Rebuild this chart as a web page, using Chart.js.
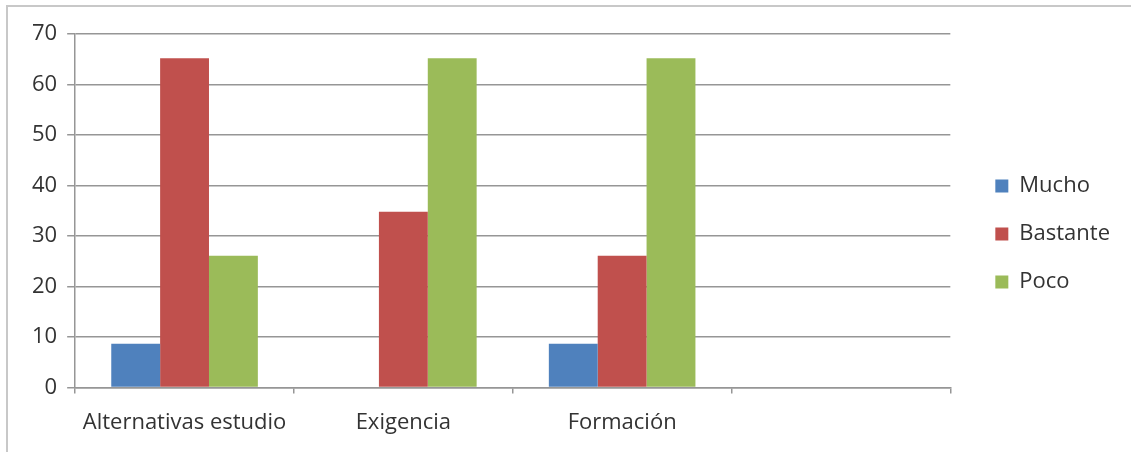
<!DOCTYPE html>
<html>
<head>
<meta charset="utf-8">
<script src="https://cdn.jsdelivr.net/npm/chart.js@4.4.0/dist/chart.umd.min.js"></script>
<style>
  body { margin: 0; background: #fff; }
  #wrap { position: relative; width: 1131px; height: 452px; }
  #frame { position: absolute; left: 6px; top: 5px; right: 0; bottom: 0; border-left: 2px solid #c8c8c8; border-top: 2px solid #c8c8c8; }
  canvas { position: absolute; left: 0; top: 0; }
</style>
</head>
<body>
<div id="wrap">
  <div id="frame"></div>
  <canvas id="chart" width="1131" height="452"></canvas>
</div>
<script>
const categories = ['Alternativas estudio', 'Exigencia', 'Formación', ''];
const mucho = [8.7, 0, 8.7, null];
const bastante = [65.2, 34.8, 26.1, null];
const poco = [26.1, 65.2, 65.2, null];
const yTicks = [0, 10, 20, 30, 40, 50, 60, 70];

const textColor = '#333333';
const gridColor = '#969696';
const font = { family: 'Open Sans', size: 22 };

// nudge legend to sit where the original one does
const legendShift = {
  id: 'legendShift',
  afterLayout(chart) {
    chart.legend.left += 19;
    chart.legend.right += 19;
    chart.legend.top -= 9;
    chart.legend.bottom -= 9;
  }
};

const ctx = document.getElementById('chart').getContext('2d');
new Chart(ctx, {
  type: 'bar',
  data: {
    labels: categories,
    datasets: [
      { label: 'Mucho', data: mucho, backgroundColor: '#4F81BD' },
      { label: 'Bastante', data: bastante, backgroundColor: '#C0504D' },
      { label: 'Poco', data: poco, backgroundColor: '#9BBB59' },
    ],
  },
  options: {
    responsive: false,
    animation: false,
    layout: { padding: { top: 34, left: 22, right: 30, bottom: 0 } },
    datasets: { bar: { categoryPercentage: 0.67, barPercentage: 1.0 } },
    scales: {
      x: {
        grid: { offset: true, drawOnChartArea: false, color: gridColor, lineWidth: 1.5, tickLength: 6 },
        border: { color: gridColor, width: 1.5 },
        ticks: { color: textColor, font: font, padding: 16, maxRotation: 0, autoSkip: false },
      },
      y: {
        min: yTicks[0],
        max: yTicks[yTicks.length - 1],
        afterBuildTicks: (axis) => { axis.ticks = yTicks.map((v) => ({ value: v })); },
        grid: { color: gridColor, lineWidth: 1.5, tickLength: 8 },
        border: { color: gridColor, width: 1.5 },
        ticks: { color: textColor, font: font, padding: 10 },
      },
    },
    plugins: {
      legend: {
        position: 'right',
        labels: { color: textColor, font: font, boxWidth: 13, boxHeight: 13, padding: 26 },
      },
      tooltip: { enabled: false },
    },
  },
  plugins: [legendShift],
});
</script>
</body>
</html>
